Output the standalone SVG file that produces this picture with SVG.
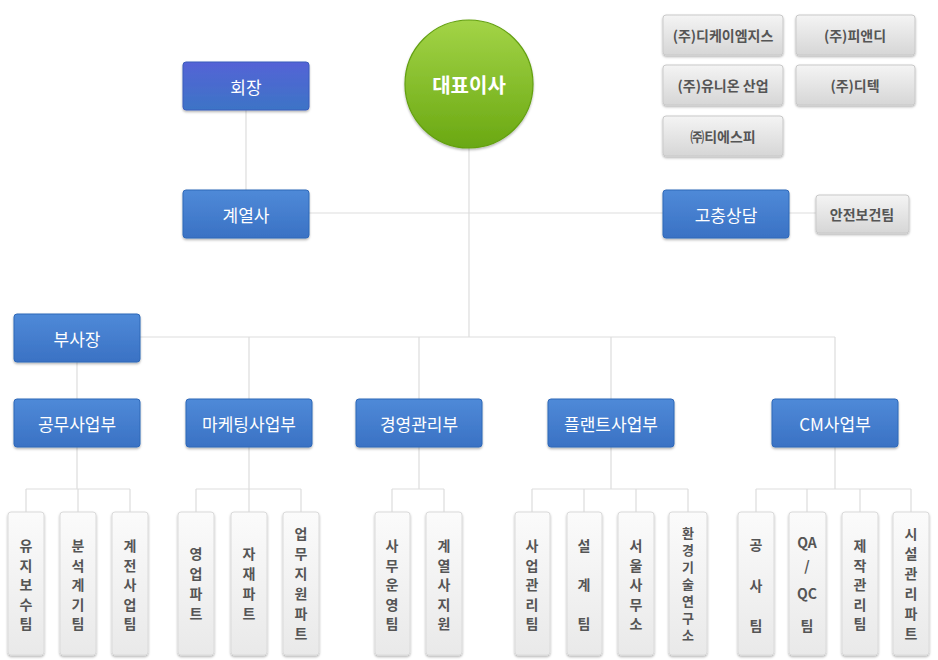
<svg xmlns="http://www.w3.org/2000/svg" width="938" height="660" viewBox="0 0 938 660">
<style>
.ln{stroke:#dddddd;stroke-width:1.2;fill:none}
.bx{fill:url(#gBlue);stroke:#2f68b8;stroke-width:1;filter:url(#sh)}
.bxp{fill:url(#gPurple);stroke:#3a5cbc;stroke-width:1;filter:url(#sh)}
.gy{fill:url(#gGray);stroke:#c9c9c9;stroke-width:1;filter:url(#sh)}
.gv{fill:url(#gGray2);stroke:#dadada;stroke-width:1;filter:url(#sh)}
.wt{font-family:"Noto Sans CJK KR","Noto Sans",sans-serif;font-size:17px;fill:#ffffff;text-anchor:middle;dominant-baseline:central}
.gt{font-family:"Noto Sans CJK KR","Noto Sans",sans-serif;font-size:14px;font-weight:bold;fill:#555555;text-anchor:middle;dominant-baseline:central}
.vt{font-family:"Noto Sans CJK KR","Noto Sans",sans-serif;font-size:14px;font-weight:bold;fill:#555555;text-anchor:middle;dominant-baseline:central}
</style>
<defs>
<linearGradient id="gBlue" x1="0" y1="0" x2="0" y2="1"><stop offset="0" stop-color="#4f8ad8"/><stop offset="1" stop-color="#3a72c4"/></linearGradient>
<linearGradient id="gPurple" x1="0" y1="0" x2="0" y2="1"><stop offset="0" stop-color="#5563d6"/><stop offset="1" stop-color="#3d74c6"/></linearGradient>
<linearGradient id="gGray" x1="0" y1="0" x2="0" y2="1"><stop offset="0" stop-color="#f4f4f4"/><stop offset="1" stop-color="#d6d6d6"/></linearGradient>
<linearGradient id="gGray2" x1="0" y1="0" x2="0" y2="1"><stop offset="0" stop-color="#fbfbfb"/><stop offset="1" stop-color="#e9e9e9"/></linearGradient>
<linearGradient id="gGreen" x1="0" y1="0" x2="0" y2="1"><stop offset="0" stop-color="#a3d447"/><stop offset="1" stop-color="#6aa812"/></linearGradient>
<filter id="sh" x="-20%" y="-20%" width="140%" height="140%"><feDropShadow dx="0" dy="1.5" stdDeviation="1" flood-color="#000" flood-opacity="0.3"/></filter>
</defs>

<g id="connectors">
<path class="ln" d="M246 110V190"/>
<path class="ln" d="M309 213H663M789 213H816"/>
<path class="ln" d="M469 148V337"/>
<path class="ln" d="M140 337H835"/>
<path class="ln" d="M249 337V399M419 337V399M611 337V399M835 337V399"/>
<path class="ln" d="M77 362V399"/>
<path class="ln" d="M77 447V489M249 447V489M419 447V489M611 447V489M835 447V489"/>
<path class="ln" d="M26 489H130M26 489V512M78 489V512M130 489V512"/>
<path class="ln" d="M196 489H301M196 489V512M249 489V512M301 489V512"/>
<path class="ln" d="M392 489H444M392 489V512M444 489V512"/>
<path class="ln" d="M532 489H688M532 489V512M584 489V512M636 489V512M688 489V512"/>
<path class="ln" d="M756 489H911M756 489V512M807 489V512M860 489V512M911 489V512"/>
</g>

<g id="n-ceo"><circle cx="469" cy="84" r="64" fill="url(#gGreen)" stroke="#63a011" stroke-width="1.2" filter="url(#sh)"/><text class="wt" x="469" y="84" style="font-size:20px;font-weight:bold">대표이사</text></g>

<g id="n-chair"><rect class="bxp" x="183" y="62" width="126" height="48" rx="3"/><text class="wt" x="246" y="86">회장</text></g>
<g id="n-affil"><rect class="bx" x="183" y="190" width="126" height="48" rx="3"/><text class="wt" x="246" y="214">계열사</text></g>
<g id="n-grievance"><rect class="bx" x="663" y="190" width="126" height="48" rx="3"/><text class="wt" x="726" y="214">고충상담</text></g>
<g id="n-safety"><rect class="gy" x="816" y="195" width="93" height="38" rx="3"/><text class="gt" x="862" y="214">안전보건팀</text></g>

<g id="n-c1"><rect class="gy" x="663" y="15" width="120" height="40" rx="3"/><text class="gt" x="723" y="35">(주)디케이엠지스</text></g>
<g id="n-c2"><rect class="gy" x="796" y="15" width="119" height="40" rx="3"/><text class="gt" x="855" y="35">(주)피앤디</text></g>
<g id="n-c3"><rect class="gy" x="663" y="65" width="120" height="40" rx="3"/><text class="gt" x="723" y="85">(주)유니온 산업</text></g>
<g id="n-c4"><rect class="gy" x="796" y="65" width="119" height="40" rx="3"/><text class="gt" x="855" y="85">(주)디텍</text></g>
<g id="n-c5"><rect class="gy" x="663" y="116" width="120" height="40" rx="3"/><text class="gt" x="723" y="136">㈜티에스피</text></g>

<g id="n-vp"><rect class="bx" x="14" y="314" width="126" height="48" rx="3"/><text class="wt" x="77" y="338">부사장</text></g>
<g id="n-d1"><rect class="bx" x="14" y="399" width="126" height="48" rx="3"/><text class="wt" x="77" y="423">공무사업부</text></g>
<g id="n-d2"><rect class="bx" x="186" y="399" width="126" height="48" rx="3"/><text class="wt" x="249" y="423">마케팅사업부</text></g>
<g id="n-d3"><rect class="bx" x="356" y="399" width="126" height="48" rx="3"/><text class="wt" x="419" y="423">경영관리부</text></g>
<g id="n-d4"><rect class="bx" x="548" y="399" width="126" height="48" rx="3"/><text class="wt" x="611" y="423">플랜트사업부</text></g>
<g id="n-d5"><rect class="bx" x="772" y="399" width="126" height="48" rx="3"/><text class="wt" x="835" y="423">CM사업부</text></g>

<g id="n-t1"><rect class="gv" x="8" y="512" width="36" height="143" rx="3"/><text class="vt"><tspan x="26" y="545">유</tspan><tspan x="26" y="564.5">지</tspan><tspan x="26" y="584">보</tspan><tspan x="26" y="603.5">수</tspan><tspan x="26" y="623">팀</tspan></text></g>
<g id="n-t2"><rect class="gv" x="60" y="512" width="36" height="143" rx="3"/><text class="vt"><tspan x="78" y="545">분</tspan><tspan x="78" y="564.5">석</tspan><tspan x="78" y="584">계</tspan><tspan x="78" y="603.5">기</tspan><tspan x="78" y="623">팀</tspan></text></g>
<g id="n-t3"><rect class="gv" x="112" y="512" width="36" height="143" rx="3"/><text class="vt"><tspan x="130" y="545">계</tspan><tspan x="130" y="564.5">전</tspan><tspan x="130" y="584">사</tspan><tspan x="130" y="603.5">업</tspan><tspan x="130" y="623">팀</tspan></text></g>

<g id="n-t4"><rect class="gv" x="178" y="512" width="36" height="143" rx="3"/><text class="vt"><tspan x="196" y="553">영</tspan><tspan x="196" y="573">업</tspan><tspan x="196" y="593">파</tspan><tspan x="196" y="613">트</tspan></text></g>
<g id="n-t5"><rect class="gv" x="231" y="512" width="36" height="143" rx="3"/><text class="vt"><tspan x="249" y="553">자</tspan><tspan x="249" y="573">재</tspan><tspan x="249" y="593">파</tspan><tspan x="249" y="613">트</tspan></text></g>
<g id="n-t6"><rect class="gv" x="283" y="512" width="36" height="143" rx="3"/><text class="vt"><tspan x="301" y="533">업</tspan><tspan x="301" y="553">무</tspan><tspan x="301" y="573">지</tspan><tspan x="301" y="593">원</tspan><tspan x="301" y="613">파</tspan><tspan x="301" y="633">트</tspan></text></g>

<g id="n-t7"><rect class="gv" x="375" y="512" width="35" height="143" rx="3"/><text class="vt"><tspan x="392" y="545">사</tspan><tspan x="392" y="564.5">무</tspan><tspan x="392" y="584">운</tspan><tspan x="392" y="603.5">영</tspan><tspan x="392" y="623">팀</tspan></text></g>
<g id="n-t8"><rect class="gv" x="426" y="512" width="36" height="143" rx="3"/><text class="vt"><tspan x="444" y="545">계</tspan><tspan x="444" y="564.5">열</tspan><tspan x="444" y="584">사</tspan><tspan x="444" y="603.5">지</tspan><tspan x="444" y="623">원</tspan></text></g>

<g id="n-t9"><rect class="gv" x="515" y="512" width="35" height="143" rx="3"/><text class="vt"><tspan x="532" y="545">사</tspan><tspan x="532" y="564.5">업</tspan><tspan x="532" y="584">관</tspan><tspan x="532" y="603.5">리</tspan><tspan x="532" y="623">팀</tspan></text></g>
<g id="n-t10"><rect class="gv" x="567" y="512" width="35" height="143" rx="3"/><text class="vt"><tspan x="584" y="545">설</tspan><tspan x="584" y="584">계</tspan><tspan x="584" y="623">팀</tspan></text></g>
<g id="n-t11"><rect class="gv" x="618" y="512" width="36" height="143" rx="3"/><text class="vt"><tspan x="636" y="545">서</tspan><tspan x="636" y="564.5">울</tspan><tspan x="636" y="584">사</tspan><tspan x="636" y="603.5">무</tspan><tspan x="636" y="623">소</tspan></text></g>
<g id="n-t12"><rect class="gv" x="669" y="512" width="38" height="143" rx="3"/><text class="vt" style="font-size:13px"><tspan x="688" y="532">환</tspan><tspan x="688" y="549">경</tspan><tspan x="688" y="566">기</tspan><tspan x="688" y="583">술</tspan><tspan x="688" y="600">연</tspan><tspan x="688" y="617">구</tspan><tspan x="688" y="634">소</tspan></text></g>

<g id="n-t13"><rect class="gv" x="738" y="512" width="36" height="143" rx="3"/><text class="vt"><tspan x="756" y="544">공</tspan><tspan x="756" y="585">사</tspan><tspan x="756" y="625">팀</tspan></text></g>
<g id="n-t14"><rect class="gv" x="789" y="512" width="37" height="143" rx="3"/><text class="vt"><tspan x="807" y="542">QA</tspan><tspan x="807" y="565">/</tspan><tspan x="807" y="593">QC</tspan><tspan x="807" y="625">팀</tspan></text></g>
<g id="n-t15"><rect class="gv" x="842" y="512" width="36" height="143" rx="3"/><text class="vt"><tspan x="860" y="545">제</tspan><tspan x="860" y="564.5">작</tspan><tspan x="860" y="584">관</tspan><tspan x="860" y="603.5">리</tspan><tspan x="860" y="623">팀</tspan></text></g>
<g id="n-t16"><rect class="gv" x="893" y="512" width="36" height="143" rx="3"/><text class="vt"><tspan x="911" y="533">시</tspan><tspan x="911" y="553">설</tspan><tspan x="911" y="573">관</tspan><tspan x="911" y="593">리</tspan><tspan x="911" y="613">파</tspan><tspan x="911" y="633">트</tspan></text></g>
</svg>
